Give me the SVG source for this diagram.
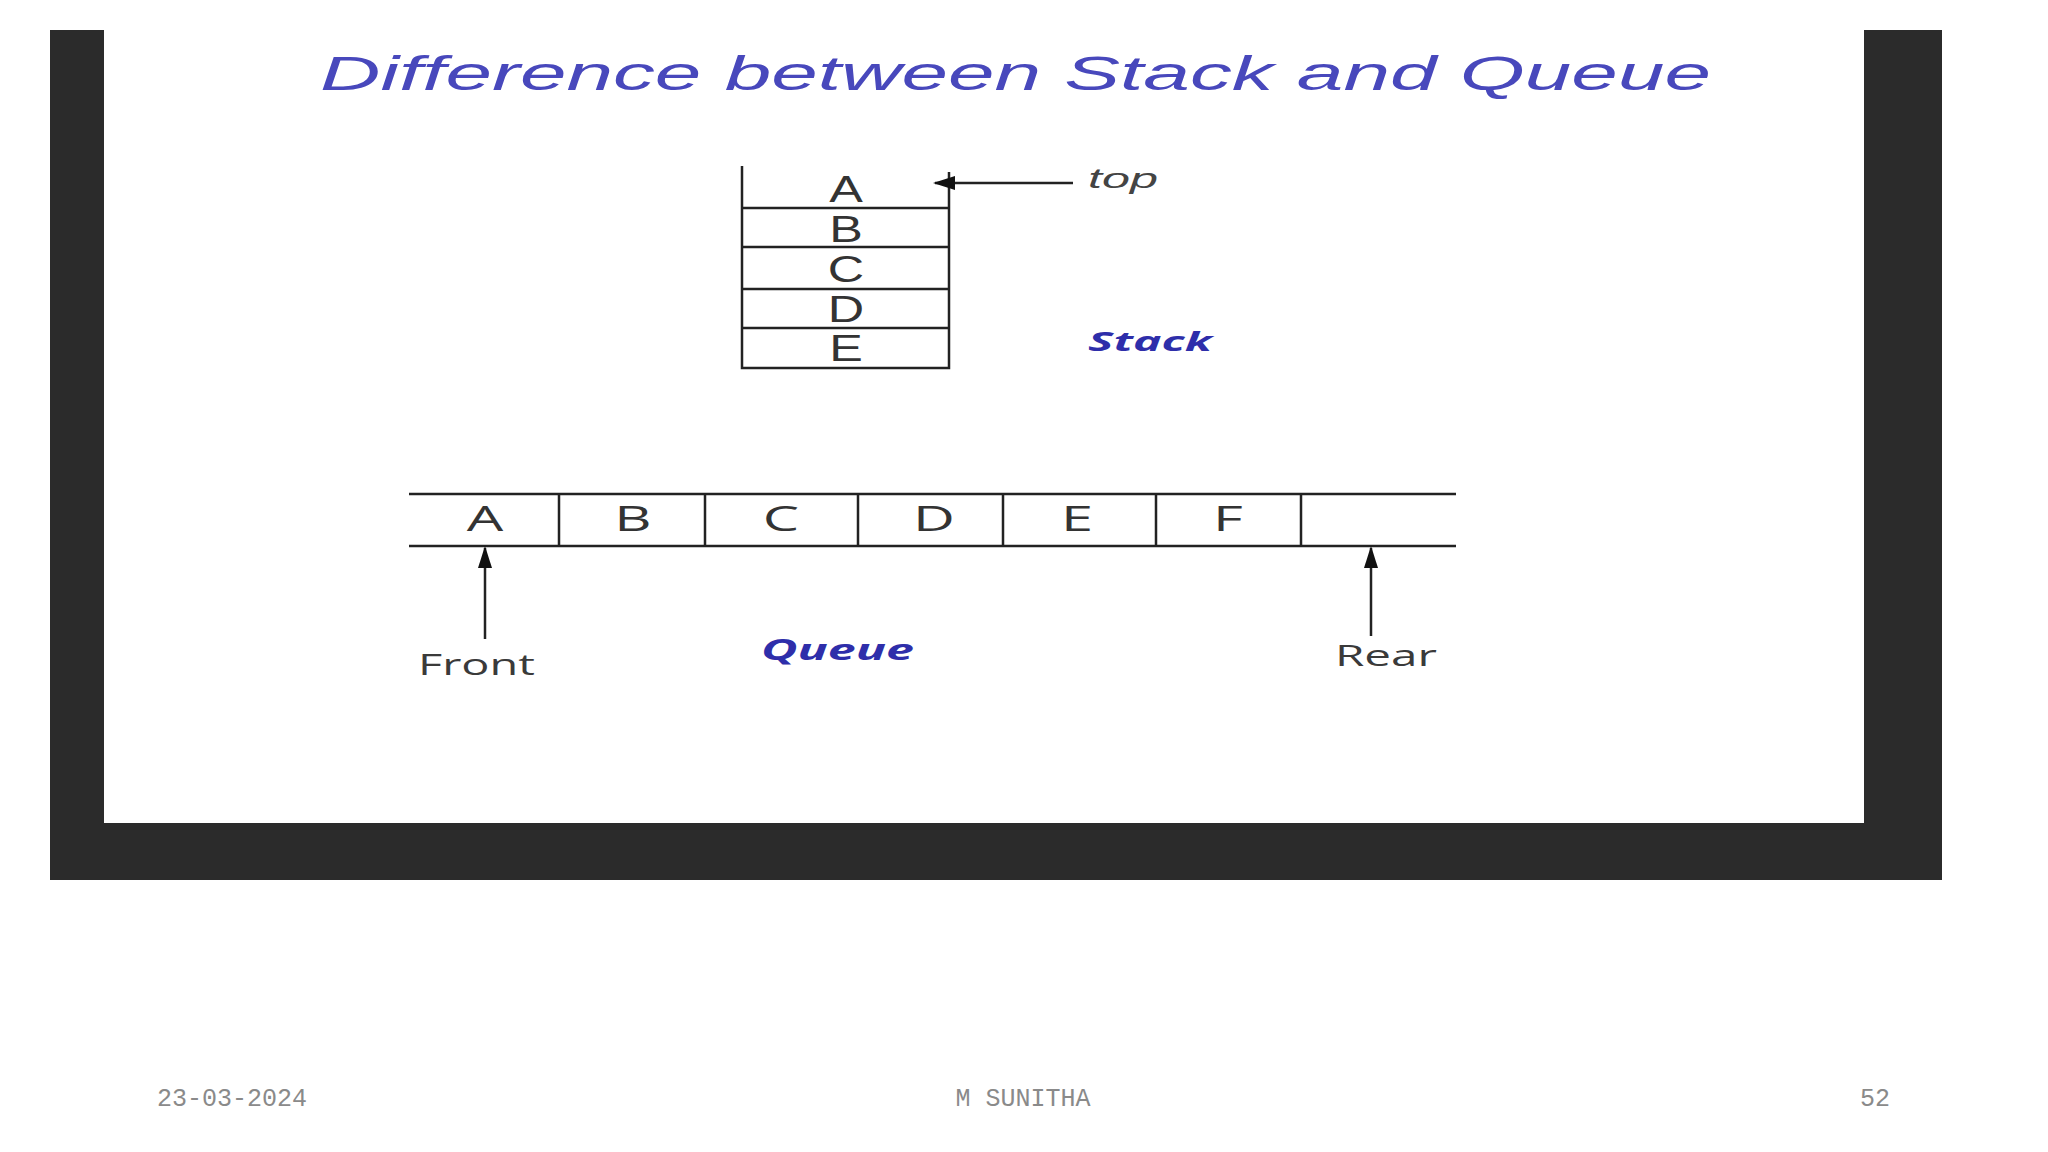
<svg xmlns="http://www.w3.org/2000/svg" width="2048" height="1152" viewBox="0 0 2048 1152">
<style>
.ln{stroke:#222;stroke-width:2.5;fill:none}
.sl{font-family:"Liberation Sans",Arial,sans-serif;font-size:36px;fill:#333;text-anchor:middle}
.ql{font-family:"Open Sans","Liberation Sans",sans-serif;font-size:34px;fill:#333;text-anchor:middle}
.lbl{font-family:"Open Sans","Liberation Sans",sans-serif;font-size:30px;fill:#3a3a3a}
.blue{font-family:"Open Sans","Liberation Sans",sans-serif;font-weight:bold;font-style:italic;fill:#2e2eaa}
.foot{font-family:"Liberation Mono","Courier New",monospace;font-size:25px;fill:#8a8a8a}
.cn{stroke:#222;stroke-width:2.5;marker-end:url(#ah)}
</style>
<defs>
<marker id="ah" viewBox="0 0 22 14" refX="20" refY="7" markerWidth="22" markerHeight="14" orient="auto" markerUnits="userSpaceOnUse"><path d="M0,0 L22,7 L0,14 z" fill="#111"/></marker>
</defs>
<rect x="0" y="0" width="2048" height="1152" fill="#fff"/>
<rect id="frame" x="50" y="30" width="1892" height="850" fill="#2b2b2b"/>
<rect id="slide" x="104" y="30" width="1760" height="793" fill="#fff"/>
<text id="title" x="320" y="90" font-family="'Liberation Sans',Arial,sans-serif" font-style="italic" font-size="48" fill="#4848bc" textLength="1391" lengthAdjust="spacingAndGlyphs">Difference between Stack and Queue</text>
<g id="stack">
<path class="ln" d="M742,166 V368 H949 V172 M742,208 H949 M742,247 H949 M742,289 H949 M742,328 H949"/>
<text class="sl" transform="translate(846,202) scale(1.4,1)">A</text>
<text class="sl" transform="translate(846,242) scale(1.4,1)">B</text>
<text class="sl" transform="translate(846,282) scale(1.4,1)">C</text>
<text class="sl" transform="translate(846,322) scale(1.4,1)">D</text>
<text class="sl" transform="translate(846,361) scale(1.4,1)">E</text>
</g>
<g id="top-label"><text x="1088" y="188" font-family="'Liberation Sans',Arial,sans-serif" font-style="italic" font-size="28" fill="#444" textLength="70" lengthAdjust="spacingAndGlyphs">top</text></g>
<g id="stack-label"><text class="blue" x="1088" y="351" font-size="27" textLength="124" lengthAdjust="spacingAndGlyphs">Stack</text></g>
<g id="queue">
<path class="ln" d="M409,494 H1456 M409,546 H1456 M559,494 V546 M705,494 V546 M858,494 V546 M1003,494 V546 M1156,494 V546 M1301,494 V546"/>
<text class="ql" transform="translate(485,531) scale(1.7,1)">A</text>
<text class="ql" transform="translate(633,531) scale(1.7,1)">B</text>
<text class="ql" transform="translate(781,531) scale(1.7,1)">C</text>
<text class="ql" transform="translate(934,531) scale(1.7,1)">D</text>
<text class="ql" transform="translate(1077,531) scale(1.7,1)">E</text>
<text class="ql" transform="translate(1228,531) scale(1.7,1)">F</text>
</g>
<g id="front-label"><text class="lbl" x="418" y="675" textLength="117" lengthAdjust="spacingAndGlyphs">Front</text></g>
<g id="rear-label"><text class="lbl" x="1335" y="666" textLength="102" lengthAdjust="spacingAndGlyphs">Rear</text></g>
<g id="queue-label"><text class="blue" x="761" y="660" font-size="28" textLength="153" lengthAdjust="spacingAndGlyphs">Queue</text></g>
<g id="connectors">
<line class="cn" x1="1073" y1="183" x2="935" y2="183"/>
<line class="cn" x1="485" y1="639" x2="485" y2="548"/>
<line class="cn" x1="1371" y1="636" x2="1371" y2="548"/>
</g>
<g id="footer">
<text class="foot" x="157" y="1106">23-03-2024</text>
<text class="foot" x="1023" y="1106" text-anchor="middle">M SUNITHA</text>
<text class="foot" x="1890" y="1106" text-anchor="end">52</text>
</g>
</svg>
